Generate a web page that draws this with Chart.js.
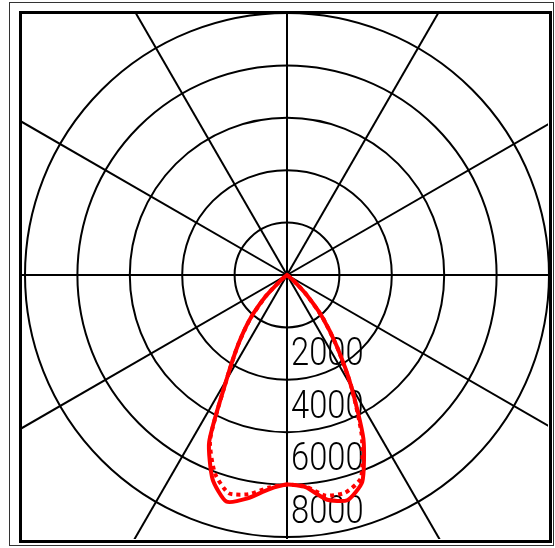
<!DOCTYPE html>
<html>
<head>
<meta charset="utf-8">
<script src="https://cdn.jsdelivr.net/npm/chart.js@4.4.0/dist/chart.umd.min.js"></script>
<style>
  html, body { margin: 0; padding: 0; background: #fff; }
  #wrap { position: relative; width: 555px; height: 548px; overflow: hidden; }
  #chart { position: absolute; left: 0; top: 0; }
  .frame { position: absolute; box-sizing: border-box; pointer-events: none; }
  #outer { left: 9px; top: 2px; width: 545px; height: 544px; border: 1px solid #333; }
  #inner { left: 19px; top: 11px; width: 533px; height: 532px; border: 3px solid #000; }
</style>
</head>
<body>
<div id="wrap">
  <canvas id="chart" width="555" height="548"></canvas>
  <div class="frame" id="outer"></div>
  <div class="frame" id="inner"></div>
</div>
<script>
// gamma angles, clockwise from straight down (left side first)
const angles = [0, 5, 10, 15, 20, 25, 30, 35, 40, 45, 50, 55,
  60, 65, 70, 75, 80, 85, 90, 95, 100, 105, 110, 115,
  120, 125, 130, 135, 140, 145, 150, 155, 160, 165, 170, 175,
  180, 185, 190, 195, 200, 205, 210, 215, 220, 225, 230, 235,
  240, 245, 250, 255, 260, 265, 270, 275, 280, 285, 290, 295,
  300, 305, 310, 315, 320, 325, 330, 335, 340, 345, 350, 355];

// intensity in cd, solid curve
const planeC0 = [8000, 8220, 8660, 8950, 8300, 7030, 4620, 3260, 2200, 1150, 300, 50, 0,
  0, 0, 0, 0, 0, 0, 0, 0, 0, 0,
  0, 0, 0, 0, 0, 0, 0, 0, 0, 0,
  0, 0, 0, 0, 0, 0, 0, 0, 0, 0,
  0, 0, 0, 0, 0, 0, 0, 0, 0, 0,
  0, 0, 0, 0, 0, 0, 0,
  0, 50, 300, 1000, 2100, 3300, 4900, 6900, 8400, 8900, 8700, 8130];

// intensity in cd, dotted curve
const planeC90 = [8000, 8150, 8500, 8620, 8050, 6950, 4620, 3260, 2200, 1150, 300, 50, 0,
  0, 0, 0, 0, 0, 0, 0, 0, 0, 0,
  0, 0, 0, 0, 0, 0, 0, 0, 0, 0,
  0, 0, 0, 0, 0, 0, 0, 0, 0, 0,
  0, 0, 0, 0, 0, 0, 0, 0, 0, 0,
  0, 0, 0, 0, 0, 0, 0,
  0, 50, 300, 1000, 2100, 3300, 4900, 6750, 8250, 8600, 8550, 8100];

const ringValues = [2000, 4000, 6000, 8000];
const ringLabels = ['2000', '4000', '6000', '8000'];

// radial lines every 30 deg, running out to the frame, plus ring labels
const polarGrid = {
  id: 'polarGrid',
  beforeDatasetsDraw(chart) {
    const ctx = chart.ctx;
    const scale = chart.scales.r;
    ctx.save();
    ctx.beginPath();
    ctx.rect(22, 14, 526, 525);
    ctx.clip();
    ctx.strokeStyle = '#000';
    ctx.lineWidth = 2;
    for (let i = 0; i < angles.length; i += 6) {
      const p = scale.getPointPosition(i, 800);
      ctx.beginPath();
      ctx.moveTo(scale.xCenter, scale.yCenter);
      ctx.lineTo(p.x, p.y);
      ctx.stroke();
    }
    ctx.fillStyle = '#000';
    ctx.font = '300 38px Roboto';
    ctx.textBaseline = 'alphabetic';
    ringValues.forEach((v, k) => {
      const p = scale.getPointPositionForValue(0, v);
      ctx.save();
      ctx.translate(p.x + 4, p.y + 38);
      ctx.scale(0.86, 1);
      ctx.fillText(ringLabels[k], 0, 0);
      ctx.restore();
    });
    ctx.restore();
  }
};

new Chart(document.getElementById('chart'), {
  type: 'radar',
  data: {
    labels: angles,
    datasets: [
      { data: planeC0, borderColor: '#ff0000', borderWidth: 4, fill: false, pointRadius: 0, tension: 0.2 },
      { data: planeC90, borderColor: '#ff0000', borderWidth: 4, borderDash: [4, 4], fill: false, pointRadius: 0, tension: 0.2 }
    ]
  },
  options: {
    responsive: false,
    animation: false,
    layout: { padding: { left: 25, right: 6, top: 13, bottom: 11 } },
    plugins: { legend: { display: false }, tooltip: { enabled: false } },
    scales: {
      r: {
        min: 0,
        max: 10000,
        startAngle: 180,
        ticks: { stepSize: 2000, display: false },
        grid: { circular: true, color: '#000', lineWidth: 2 },
        angleLines: { display: false },
        pointLabels: { display: false }
      }
    }
  },
  plugins: [polarGrid]
});
</script>
</body>
</html>
